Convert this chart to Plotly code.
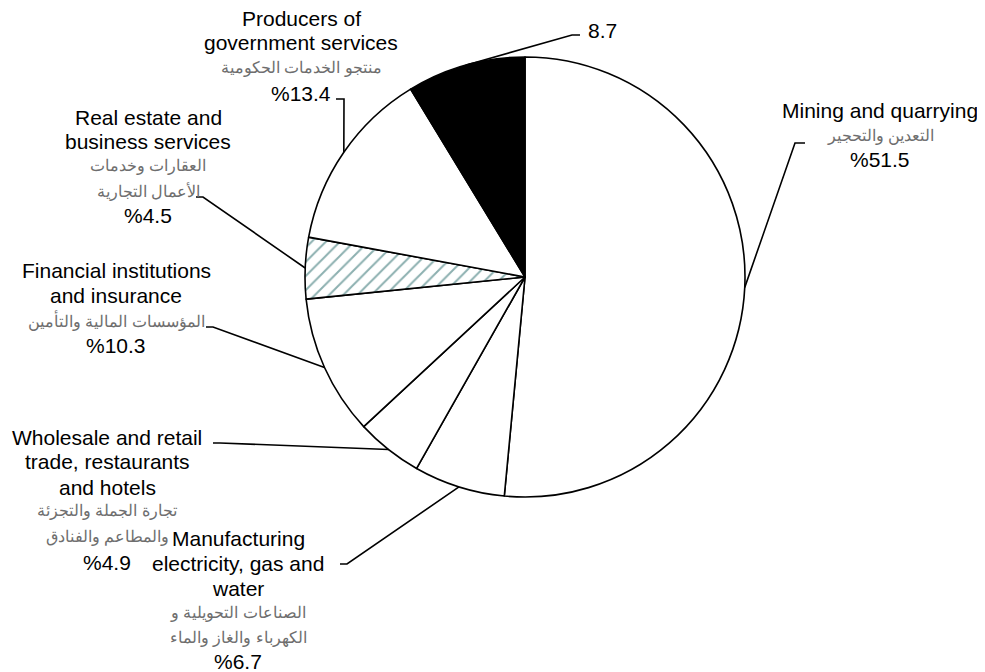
import math
import plotly.graph_objects as go

# ---------------- data ----------------
sectors = [
    "Mining and quarrying",
    "Manufacturing electricity, gas and water",
    "Wholesale and retail trade, restaurants and hotels",
    "Financial institutions and insurance",
    "Real estate and business services",
    "Producers of government services",
    "Other",
]
shares = [51.5, 6.7, 4.9, 10.3, 4.5, 13.4, 8.7]

en_lines = [
    ["Mining and quarrying"],
    ["Manufacturing", "electricity, gas and", "water"],
    ["Wholesale and retail", "trade, restaurants", "and hotels"],
    ["Financial institutions", "and insurance"],
    ["Real estate and", "business services"],
    ["Producers of", "government services"],
    [],
]
ar_lines = [
    ["التعدين والتحجير"],
    ["الصناعات التحويلية و", "الكهرباء والغاز والماء"],
    ["تجارة الجملة والتجزئة", "والمطاعم والفنادق"],
    ["المؤسسات المالية والتأمين"],
    ["العقارات وخدمات", "الأعمال التجارية"],
    ["منتجو الخدمات الحكومية"],
    [],
]
value_text = ["%51.5", "%6.7", "%4.9", "%10.3", "%4.5", "%13.4", "8.7"]

# ---------------- layout constants (pixels in the page) ----------------
OFF = 8                      # default page body margin
W, H = 985 - OFF, 672 - OFF  # figure size so it fits the window
CX, CY, R = 525, 277, 220
FONT = "Liberation Sans, Arial, sans-serif"

def px(x):
    return (x - OFF) / W

def py(y):
    return 1 - (y - OFF) / H

# label block: (center x, list of line y positions)
label_pos = [
    (880, [110, 136, 160]),
    (238, [538, 563, 588, 613, 638, 661]),
    (107, [437, 462, 487, 511, 537, 562]),
    (116, [270, 295, 320, 345]),
    (148, [117, 141, 166, 191, 215]),
    (301, [19, 43, 68, 93]),
    (602, [31]),
]
# leader elbows: (elbow point, end point)
leader = [
    ((795, 143), (805, 143)),
    ((347, 564), (340, 564)),
    ((220, 443), (213, 443)),
    ((213, 327), (206, 327)),
    ((203, 197), (196, 197)),
    ((344, 99), (336, 99)),
    ((572, 35), (580, 35)),
]

fig = go.Figure()
fig.add_trace(go.Pie(
    labels=sectors,
    values=shares,
    sort=False,
    direction="clockwise",
    rotation=0,
    textinfo="none",
    hoverinfo="label+value",
    showlegend=False,
    marker=dict(
        colors=["white", "white", "white", "white", "white", "white", "black"],
        line=dict(color="black", width=1.6),
        pattern=dict(
            shape=["", "", "", "", "/", "", ""],
            fgcolor="#8cb0b0",
            bgcolor="white",
            size=10,
            solidity=0.2,
        ),
    ),
    domain=dict(x=[px(CX - R), px(CX + R)], y=[py(CY + R), py(CY - R)]),
))

annotations = []
shapes = []
total = sum(shares)
cum = 0.0
for i, v in enumerate(shares):
    mid = (cum + v / 2) / total * 2 * math.pi
    cum += v
    sx = CX + R * math.sin(mid)
    sy = CY - R * math.cos(mid)
    (ex, ey), (tx, ty) = leader[i]
    shapes.append(dict(
        type="path", xref="paper", yref="paper",
        path=f"M {px(sx)} {py(sy)} L {px(ex)} {py(ey)} L {px(tx)} {py(ty)}",
        line=dict(color="black", width=1.6),
    ))
    xc, ys = label_pos[i]
    lines = [(t, "en") for t in en_lines[i]] + [(t, "ar") for t in ar_lines[i]] + [(value_text[i], "en")]
    for (t, kind), yy in zip(lines, ys):
        annotations.append(dict(
            x=px(xc), y=py(yy), xref="paper", yref="paper",
            text=t, showarrow=False, xanchor="center", yanchor="middle",
            borderpad=0,
            font=dict(family=FONT, size=21 if kind == "en" else 16,
                      color="black" if kind == "en" else "#6e6e6e"),
        ))

fig.update_layout(
    width=W, height=H,
    margin=dict(l=0, r=0, t=0, b=0),
    paper_bgcolor="white",
    plot_bgcolor="white",
    annotations=annotations,
    shapes=shapes,
    font=dict(family=FONT),
)

fig.write_html("out.html")
